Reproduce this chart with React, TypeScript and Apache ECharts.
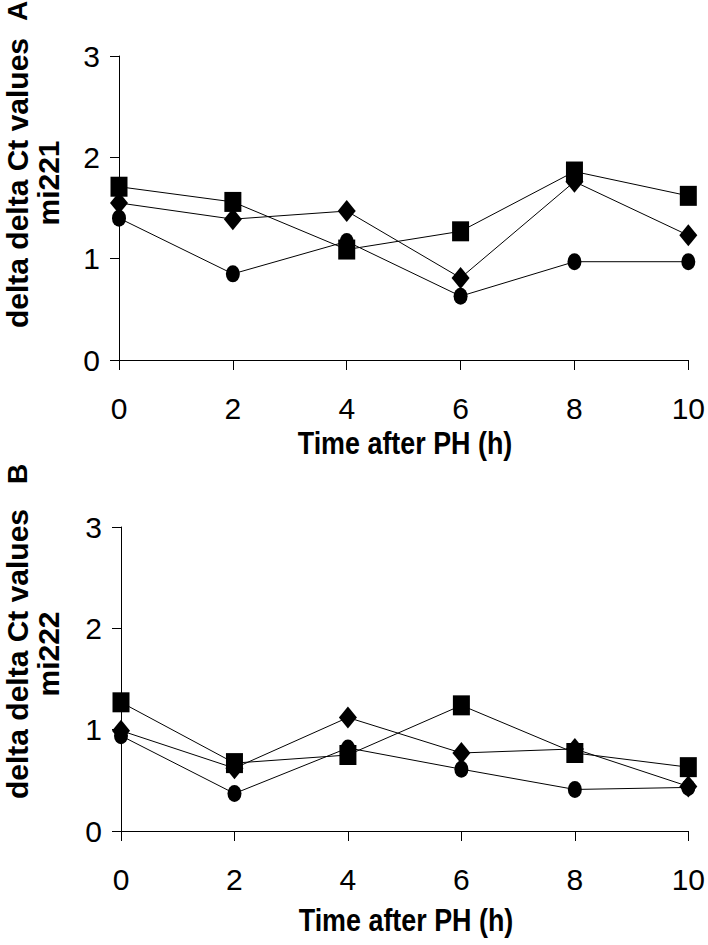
import React, { useEffect, useRef } from "react";
import * as echarts from "echarts";

const hours = [0, 2, 4, 6, 8, 10];
const yTicks = [0, 1, 2, 3];

// Panel A (mi221)
const aCircle = [1.40, 0.85, 1.17, 0.63, 0.97, 0.97];
const aDiamond = [1.55, 1.39, 1.47, 0.81, 1.76, 1.23];
const aSquare = [1.71, 1.56, 1.09, 1.27, 1.86, 1.62];

// Panel B (mi222)
const bCircle = [0.94, 0.37, 0.82, 0.61, 0.41, 0.43];
const bDiamond = [0.99, 0.62, 1.12, 0.77, 0.81, 0.44];
const bSquare = [1.27, 0.67, 0.75, 1.24, 0.77, 0.63];

const xTitle = "Time after PH (h)";
const yTitle = "delta delta Ct values";
const geneA = "mi221";
const geneB = "mi222";

const FONT = '"Liberation Sans", Arial, Helvetica, sans-serif';
const ELLIPSE = "path://M50,0 A50,50 0 1,1 50,100 A50,50 0 1,1 50,0 Z";

export default function App() {
  const ref = useRef<HTMLDivElement>(null);
  useEffect(() => {
    if (!ref.current) return;
    const chart = echarts.init(ref.current, null, { renderer: "svg" });

    const zip = (vals: number[]) => hours.map((h, i) => [h, vals[i]]);

    const xAxis = (gridIndex: number) => ({
      type: "value" as const,
      gridIndex,
      min: 0,
      max: 10,
      interval: 2,
      axisLine: { show: true, onZero: false, lineStyle: { color: "#000", width: 1 } },
      axisTick: { show: true, inside: false, length: 10, lineStyle: { color: "#000", width: 1 } },
      axisLabel: { fontFamily: FONT, fontSize: 30, color: "#000", margin: 33 },
      splitLine: { show: false },
    });

    const yAxis = (gridIndex: number) => ({
      type: "value" as const,
      gridIndex,
      min: yTicks[0],
      max: yTicks[yTicks.length - 1],
      interval: 1,
      axisLine: { show: true, lineStyle: { color: "#000", width: 1 } },
      axisTick: { show: true, inside: false, length: 9, lineStyle: { color: "#000", width: 1 } },
      axisLabel: { fontFamily: FONT, fontSize: 30, color: "#000", margin: 19 },
      splitLine: { show: false },
    });

    const series = (name: string, vals: number[], idx: number, symbol: string, size: number[]) => ({
      name,
      type: "line" as const,
      xAxisIndex: idx,
      yAxisIndex: idx,
      data: zip(vals),
      symbol,
      symbolSize: size,
      showSymbol: true,
      lineStyle: { color: "#000", width: 1 },
      itemStyle: { color: "#000", borderWidth: 0 },
      label: { show: false },
    });

    const rotText = (text: string, x: number, y: number, size: number) => ({
      type: "text" as const,
      x,
      y,
      rotation: Math.PI / 2,
      style: {
        text,
        fill: "#000",
        font: `bold ${size}px ${FONT}`,
        textAlign: "center" as const,
        textVerticalAlign: "middle" as const,
      },
    });

    const xName = (x: number, y: number) => ({
      type: "text" as const,
      x,
      y,
      scaleX: 0.84,
      style: {
        text: xTitle,
        fill: "#000",
        font: `bold 32px ${FONT}`,
        textAlign: "center" as const,
        textVerticalAlign: "middle" as const,
      },
    });

    chart.setOption({
      animation: false,
      backgroundColor: "#fff",
      grid: [
        { left: 119, top: 56, width: 572, height: 304, containLabel: false },
        { left: 121, top: 527, width: 571, height: 304, containLabel: false },
      ],
      xAxis: [xAxis(0), xAxis(1)],
      yAxis: [yAxis(0), yAxis(1)],
      series: [
        series("circle A", aCircle, 0, ELLIPSE, [14, 17]),
        series("diamond A", aDiamond, 0, "diamond", [18, 22]),
        series("square A", aSquare, 0, "rect", [17, 20]),
        series("circle B", bCircle, 1, ELLIPSE, [14, 17]),
        series("diamond B", bDiamond, 1, "diamond", [18, 22]),
        series("square B", bSquare, 1, "rect", [17, 20]),
      ],
      graphic: [
        rotText("A", 17, 11, 28),
        rotText(yTitle, 17, 183, 30),
        rotText(geneA, 48, 183, 30),
        rotText("B", 17, 474, 28),
        rotText(yTitle, 17, 654, 30),
        rotText(geneB, 48, 654, 30),
        xName(405, 443),
        xName(406, 920),
      ],
    });

    return () => chart.dispose();
  }, []);

  return (
    <div
      ref={ref}
      style={{ position: "absolute", left: 0, top: 0, width: 708, height: 945 }}
    />
  );
}
